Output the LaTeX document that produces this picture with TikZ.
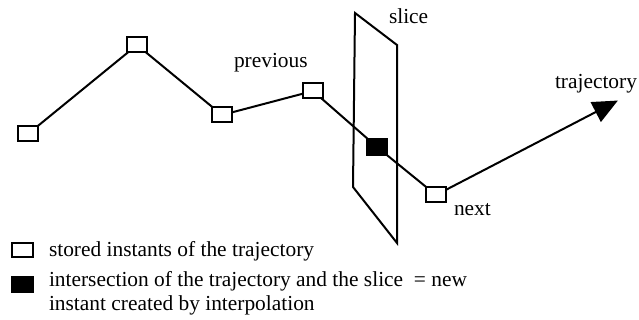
\documentclass[tikz,border=0pt]{standalone}
\usepackage{fontspec}
\setmainfont{Liberation Serif}
\newfontfamily\timesfont{Liberation Serif}
\usetikzlibrary{arrows.meta}
\begin{document}
\begin{tikzpicture}[x=1pt,y=-1pt, line width=2pt,
  inst/.style={draw, fill=white, minimum width=20pt, minimum height=15pt, inner sep=0pt},
  newinst/.style={draw, fill=black, minimum width=20pt, minimum height=16pt, inner sep=0pt},
  lbl/.style={font=\timesfont\fontsize{21.4}{24}\selectfont, inner sep=0pt, anchor=base west},
  traj/.style={line width=2pt}]
\useasboundingbox (0,0) rectangle (639,320);
% slice
\draw[line join=miter] (355,13) -- (397,45) -- (397,243) -- (353,187) -- cycle;
% instants
\coordinate (s1) at (28,134);
\coordinate (s2) at (137,45);
\coordinate (s3) at (222,115);
\coordinate (s4) at (313,91);
\coordinate (f) at (377,147);
\coordinate (n) at (436,195);
\coordinate (tip) at (617,101);
\draw[traj] (s1) -- (s2) -- (s3) -- (s4) -- (f) -- (n);
\draw[traj, -{Triangle[length=25pt,width=22pt]}, shorten >=-1pt] (n) -- (tip);
\node[inst] (S1) at (s1) {};
\node[inst] (S2) at (s2) {};
\node[inst] (S3) at (s3) {};
\node[inst] (S4) at (s4) {};
\node[newinst] (F) at (f) {};
\node[inst] (N) at (n) {};
% labels
\node[lbl] (lprev) at (233,68) {previous};
\node[lbl] (lslice) at (388,24) {slice};
\node[lbl] (ltraj) at (554,89) {trajectory};
\node[lbl] (lnext) at (453,215) {next};
% legend
\node[inst, minimum width=21pt, minimum height=14pt] (L1) at (22,249.5) {};
\node[newinst, minimum width=21pt, minimum height=15pt] (L2) at (22,284) {};
\node[lbl] (t1) at (48,256) {stored instants of the trajectory};
\node[lbl] (t2) at (48,286) {intersection of the trajectory and the slice\ \ = new};
\node[lbl] (t3) at (48,310) {instant created by interpolation};
\end{tikzpicture}
\end{document}
